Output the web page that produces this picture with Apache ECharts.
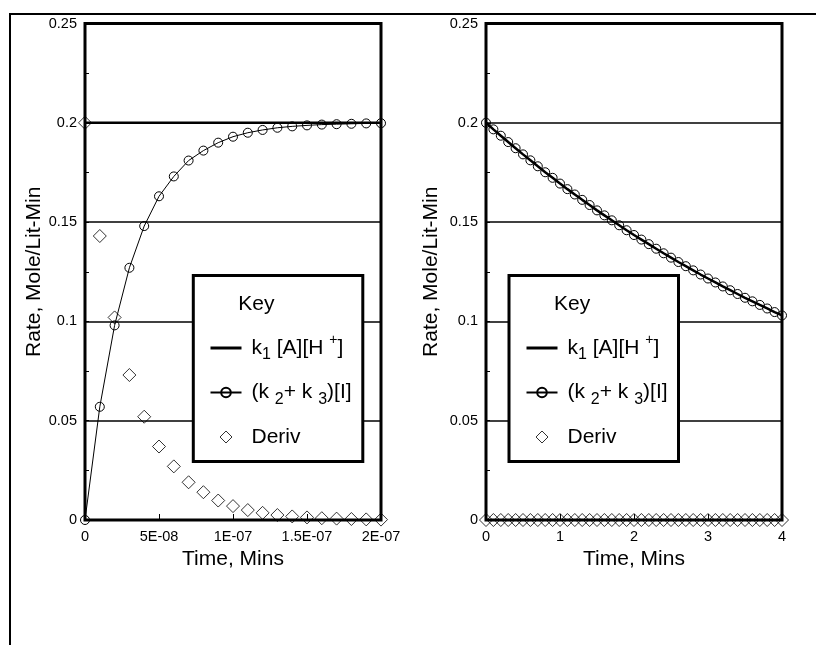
<!DOCTYPE html>
<html>
<head>
<meta charset="utf-8">
<script src="https://cdn.jsdelivr.net/npm/echarts@6/dist/echarts.min.js"></script>
<style>
  html, body { margin: 0; padding: 0; background: #fff; }
  #chart { width: 816px; height: 645px; }
</style>
</head>
<body>
<div id="chart"></div>
<script>
// 左图：时间（分钟）
const timeLeft = [0, 1e-8, 2e-8, 3e-8, 4e-8, 5e-8, 6e-8, 7e-8, 8e-8, 9e-8, 1e-7,
  1.1e-7, 1.2e-7, 1.3e-7, 1.4e-7, 1.5e-7, 1.6e-7, 1.7e-7, 1.8e-7, 1.9e-7, 2e-7];
const k1Left = [0.2, 0.2, 0.2, 0.2, 0.2, 0.2, 0.2, 0.2, 0.2, 0.2, 0.2,
  0.2, 0.2, 0.2, 0.2, 0.2, 0.2, 0.2, 0.2, 0.2, 0.2];
const k23Left = [0, 0.057, 0.098, 0.127, 0.148, 0.163, 0.173, 0.181, 0.186, 0.190, 0.193,
  0.195, 0.1964, 0.1975, 0.1982, 0.1987, 0.1991, 0.1993, 0.1995, 0.1997, 0.1998];
const derivLeft = [0.2, 0.143, 0.102, 0.073, 0.052, 0.037, 0.027, 0.019, 0.014, 0.0098, 0.007,
  0.005, 0.0036, 0.0025, 0.0018, 0.0013, 0.0009, 0.0007, 0.0005, 0.0003, 0.0002];

// 右图
const timeRight = [0, 0.1, 0.2, 0.3, 0.4, 0.5, 0.6, 0.7, 0.8, 0.9, 1.0,
  1.1, 1.2, 1.3, 1.4, 1.5, 1.6, 1.7, 1.8, 1.9, 2.0,
  2.1, 2.2, 2.3, 2.4, 2.5, 2.6, 2.7, 2.8, 2.9, 3.0,
  3.1, 3.2, 3.3, 3.4, 3.5, 3.6, 3.7, 3.8, 3.9, 4.0];
const k1Right = [0.2, 0.1967, 0.1935, 0.1903, 0.1872, 0.1841, 0.1811, 0.1781, 0.1751, 0.1723, 0.1694,
  0.1666, 0.1639, 0.1612, 0.1586, 0.1559, 0.1534, 0.1509, 0.1484, 0.1459, 0.1435,
  0.1412, 0.1389, 0.1366, 0.1343, 0.1321, 0.1299, 0.1278, 0.1257, 0.1236, 0.1216,
  0.1196, 0.1176, 0.1157, 0.1138, 0.1119, 0.1101, 0.1083, 0.1065, 0.1047, 0.1030];
const k23Right = [0.2, 0.1967, 0.1935, 0.1903, 0.1872, 0.1841, 0.1811, 0.1781, 0.1751, 0.1723, 0.1694,
  0.1666, 0.1639, 0.1612, 0.1586, 0.1559, 0.1534, 0.1509, 0.1484, 0.1459, 0.1435,
  0.1412, 0.1389, 0.1366, 0.1343, 0.1321, 0.1299, 0.1278, 0.1257, 0.1236, 0.1216,
  0.1196, 0.1176, 0.1157, 0.1138, 0.1119, 0.1101, 0.1083, 0.1065, 0.1047, 0.1030];
const derivRight = [0, 0, 0, 0, 0, 0, 0, 0, 0, 0, 0,
  0, 0, 0, 0, 0, 0, 0, 0, 0, 0,
  0, 0, 0, 0, 0, 0, 0, 0, 0, 0,
  0, 0, 0, 0, 0, 0, 0, 0, 0, 0];

// 刻度标签
const yLabels = ['0', '0.05', '0.1', '0.15', '0.2', '0.25'];
const xLabelsLeft = ['0', '5E-08', '1E-07', '1.5E-07', '2E-07'];
const xLabelsRight = ['0', '1', '2', '3', '4'];

const legendText = {
  k1: '{f|k}{sub|1}{t| [A][H }{sup|+}{t|]}',
  k23: '{f|(k }{sub|2}{t|+ k }{sub|3}{t|)[I]}',
  deriv: '{f|Deriv}'
};

const FONT = 'Liberation Sans, Arial, sans-serif';
const NONE = 'rgba(0,0,0,0)';
// 图例菱形：外框宽度与线条图标一致，避免被拉伸
const DIAMOND_ICON = 'path://M15.5,0L21.5,6L15.5,12L9.5,6Z M0,6L0,6 M31,6L31,6';

function zip(xs, ys) {
  return xs.map((x, i) => [x, ys[i]]);
}

function xAxis(gridIndex, max, interval, labels) {
  return {
    type: 'value', gridIndex, min: 0, max, interval,
    axisLine: { show: false },
    axisTick: { show: true, inside: true, length: 6, lineStyle: { color: '#000', width: 1 } },
    axisLabel: {
      color: '#000', fontSize: 14.5, fontFamily: FONT, margin: 9,
      formatter: v => labels[Math.round(v / interval)]
    },
    splitLine: { show: false },
    name: 'Time, Mins', nameLocation: 'middle', nameGap: 23,
    nameTextStyle: { color: '#000', fontSize: 21, fontFamily: FONT }
  };
}

function yAxis(gridIndex, nameGap) {
  return {
    type: 'value', gridIndex, min: 0, max: 0.25, interval: 0.05,
    axisLine: { show: false },
    axisTick: { show: true, inside: true, length: 4, lineStyle: { color: '#000' } },
    minorTick: { show: true, splitNumber: 2, length: 4, lineStyle: { color: '#000' } },
    axisLabel: {
      color: '#000', fontSize: 14.5, fontFamily: FONT, margin: 8,
      formatter: v => yLabels[Math.round(v / 0.05)]
    },
    splitLine: { show: true, lineStyle: { color: '#000', width: 1.5 } },
    name: 'Rate, Mole/Lit-Min', nameLocation: 'middle', nameGap,
    nameTextStyle: { color: '#000', fontSize: 21, fontFamily: FONT }
  };
}

function makeSeries(idx, t, k1, k23, deriv) {
  return [
    {
      name: 'k1', type: 'line', xAxisIndex: idx, yAxisIndex: idx,
      data: zip(t, k1), symbol: 'none',
      lineStyle: { color: '#000', width: 2.5 }, itemStyle: { color: '#000' }
    },
    {
      name: 'k23', type: 'line', xAxisIndex: idx, yAxisIndex: idx,
      data: zip(t, k23), symbol: 'circle', symbolSize: 9, showSymbol: true,
      lineStyle: { color: '#000', width: 1 },
      itemStyle: { color: NONE, borderColor: '#000', borderWidth: 1 }
    },
    {
      name: 'deriv', type: 'scatter', xAxisIndex: idx, yAxisIndex: idx,
      data: zip(t, deriv), symbol: 'diamond', symbolSize: 13,
      itemStyle: { color: NONE, borderColor: '#000', borderWidth: 1 }
    }
  ];
}

function legend(left) {
  return {
    data: [
      {
        name: 'k1',
        itemStyle: { color: NONE, borderColor: NONE, borderWidth: 0 },
        lineStyle: { color: '#000', width: 3 }
      },
      { name: 'k23' },
      {
        name: 'deriv', icon: DIAMOND_ICON,
        itemStyle: { color: NONE, borderColor: '#000', borderWidth: 1 }
      }
    ],
    orient: 'vertical', left, top: 333,
    itemWidth: 31, itemHeight: 12, itemGap: 19, padding: 0,
    symbolKeepAspect: true,
    selectedMode: false, z: 20,
    formatter: name => legendText[name],
    textStyle: {
      color: '#000', fontFamily: FONT,
      rich: {
        f: { fontSize: 21, lineHeight: 30, fontFamily: FONT, color: '#000', padding: [0, 0, 0, 5] },
        t: { fontSize: 21, lineHeight: 30, fontFamily: FONT, color: '#000' },
        sub: { fontSize: 16, lineHeight: 16, fontFamily: FONT, color: '#000', verticalAlign: 'bottom' },
        sup: { fontSize: 14, lineHeight: 14, fontFamily: FONT, color: '#000', verticalAlign: 'top' }
      }
    }
  };
}

function keyBox(x) {
  return [
    {
      type: 'rect', z: 10,
      shape: { x, y: 275.5, width: 169.5, height: 186 },
      style: { fill: '#fff', stroke: '#000', lineWidth: 3 }
    },
    {
      type: 'text', z: 11, x: x + 45, y: 304,
      style: { text: 'Key', fill: '#000', fontSize: 21, fontFamily: FONT, verticalAlign: 'middle' }
    }
  ];
}

const chart = echarts.init(document.getElementById('chart'), null, { renderer: 'canvas' });

chart.setOption({
  animation: false,
  backgroundColor: '#fff',
  grid: [
    { left: 85, top: 23.5, width: 296, height: 496.5, show: true, borderColor: '#000', borderWidth: 3 },
    { left: 486, top: 23.5, width: 296, height: 496.5, show: true, borderColor: '#000', borderWidth: 3 }
  ],
  xAxis: [xAxis(0, 2e-7, 5e-8, xLabelsLeft), xAxis(1, 4, 1, xLabelsRight)],
  yAxis: [yAxis(0, 40), yAxis(1, 44)],
  legend: [legend(209), legend(525)],
  graphic: [
    {
      type: 'rect', z: 0,
      shape: { x: 10, y: 14, width: 1200, height: 1000 },
      style: { fill: 'none', stroke: '#000', lineWidth: 2 }
    },
    ...keyBox(193.3),
    ...keyBox(509)
  ],
  series: [
    ...makeSeries(0, timeLeft, k1Left, k23Left, derivLeft),
    ...makeSeries(1, timeRight, k1Right, k23Right, derivRight)
  ]
});
</script>
</body>
</html>
